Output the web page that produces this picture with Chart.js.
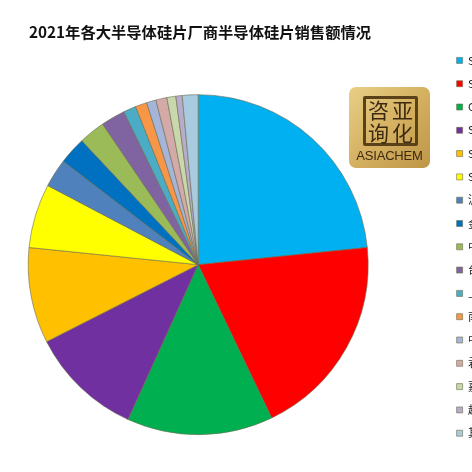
<!DOCTYPE html>
<html><head><meta charset="utf-8">
<script src="https://cdn.jsdelivr.net/npm/chart.js@4"></script>
<style>
html,body{margin:0;padding:0;width:472px;height:472px;overflow:hidden;background:#fff}
#wrap{position:relative;width:472px;height:472px;overflow:hidden}
canvas{position:absolute;left:0;top:0}
#logo{position:absolute;left:349px;top:87px;width:81px;height:81px;border-radius:7px;background:linear-gradient(135deg,#e8cf86 0%,#d3ae5e 55%,#bd9646 100%);font-family:"Noto Sans CJK SC";color:#3c2a10}
#box{position:absolute;left:14px;top:9px;width:49px;height:44px;border:3px solid #5a4119;border-radius:2px}
#box span{position:absolute;font-size:21px;line-height:21px;width:23px;text-align:center}
#en{position:absolute;left:0;right:0;top:61px;text-align:center;font:13px "Liberation Sans";color:#3c2a10;letter-spacing:-.2px}
</style></head><body>
<div id="wrap">
<canvas id="c" width="546" height="472"></canvas>
<div id="logo"><div id="box"><span style="left:1px;top:0px">咨</span><span style="left:25px;top:0px">亚</span><span style="left:1px;top:23px">询</span><span style="left:25px;top:23px">化</span></div><div id="en">ASIACHEM</div></div>
</div>
<script>
const titleText = "2021年各大半导体硅片厂商半导体硅片销售额情况";
const categories = ["SEH","SUMCO","GlobalWafers","Siltronic","SK Siltron","Soitec","沪硅产业","金瑞泓","中环股份","台胜科","上海合晶","南京国盛","中欣晶圆","君正","嘉兴中晶","超硅","其他"];
const salesShare = [23.4,19.5,13.9,10.75,9.1,6.1,2.7,2.6,2.5,2.3,1.2,1.1,0.9,1.05,0.85,0.6,1.5];
const sliceColors = ["#00B0F0","#FF0000","#00B050","#7030A0","#FFC000","#FFFF00","#4F81BD","#0070C0","#9BBB59","#8064A2","#4BACC6","#F79646","#A5B4D9","#D4AAA8","#C9D7AC","#B7ACCC","#A8CBDF"];

const spacer = {
  id:'spacer',
  beforeInit(chart){
    Chart.layouts.addBox(chart,{
      position:'right',weight:-10,fullSize:false,width:0,height:0,options:{},
      isHorizontal(){return false},
      getPadding(){return {left:0,right:0,top:0,bottom:0}},
      update(w,h){this.width=77;this.height=h;return {w:77,h}},
      draw(){}
    });
  }
};
const chart = new Chart(document.getElementById('c'),{
  type:'pie',
  data:{labels:categories,datasets:[{data:salesShare,backgroundColor:sliceColors,borderColor:'#6b6b50',borderWidth:0.6,radius:170}]},
  plugins:[spacer],
  options:{
    responsive:false,animation:false,
    layout:{padding:{left:29,top:0,right:0,bottom:21}},
    plugins:{
      tooltip:{enabled:false},
      title:{display:true,text:titleText,align:'start',color:'#111',
        font:{family:'"Noto Sans CJK SC"',size:15.3,weight:'bold'},padding:{top:23,bottom:37}},
      legend:{position:'right',align:'end',
        labels:{boxWidth:6,boxHeight:6,padding:12.3,color:'#222',font:{family:'"Noto Sans CJK SC"',size:11}}}
    }
  }
});
</script>
</body></html>
